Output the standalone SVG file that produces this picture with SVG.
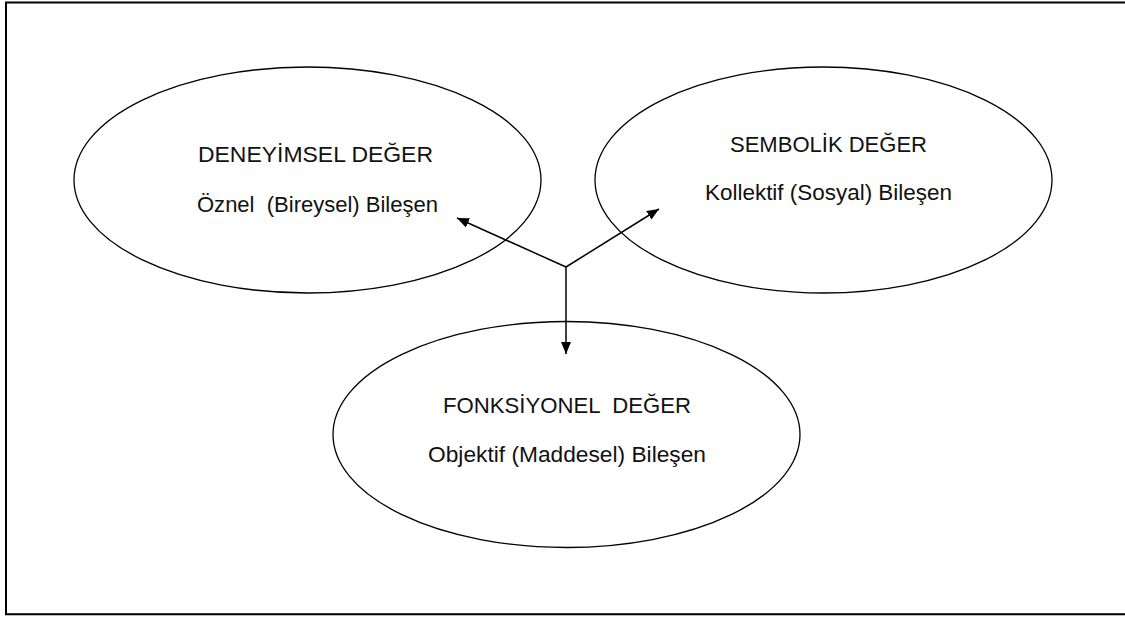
<svg xmlns="http://www.w3.org/2000/svg" width="1125" height="617" viewBox="0 0 1125 617">
<style>
.node ellipse{fill:none;stroke:#000;stroke-width:1.3}
.t{font-family:"Liberation Sans",Arial,sans-serif;font-size:22px;fill:#111;text-anchor:middle}
.conn line{stroke:#000;stroke-width:1.5}
</style>
<defs>
<marker id="ah" viewBox="0 0 12 10" refX="12" refY="5" markerWidth="12" markerHeight="10" markerUnits="userSpaceOnUse" orient="auto">
<path d="M0,0 L12,5 L0,10 Z" fill="#000"/>
</marker>
</defs>
<rect width="1125" height="617" fill="#fff"/>
<path d="M1125,2.5 H6 V614.3 H1125" fill="none" stroke="#000" stroke-width="2"/>
<g id="node-deneyimsel" class="node">
<ellipse cx="307.5" cy="180" rx="233.5" ry="113"/>
<text class="t" x="315.5" y="162" textLength="235" lengthAdjust="spacingAndGlyphs">DENEYİMSEL DEĞER</text>
<text class="t" x="317.5" y="212" textLength="241" lengthAdjust="spacingAndGlyphs" xml:space="preserve">Öznel  (Bireysel) Bileşen</text>
</g>
<g id="node-sembolik" class="node">
<ellipse cx="823.5" cy="180" rx="228.5" ry="113"/>
<text class="t" x="828.5" y="152" textLength="197" lengthAdjust="spacingAndGlyphs">SEMBOLİK DEĞER</text>
<text class="t" x="828.5" y="200" textLength="247" lengthAdjust="spacingAndGlyphs">Kollektif (Sosyal) Bileşen</text>
</g>
<g id="node-fonksiyonel" class="node">
<ellipse cx="566.5" cy="434.5" rx="233.5" ry="113"/>
<text class="t" x="567" y="413" textLength="248" lengthAdjust="spacingAndGlyphs" xml:space="preserve">FONKSİYONEL  DEĞER</text>
<text class="t" x="567" y="462" textLength="278" lengthAdjust="spacingAndGlyphs">Objektif (Maddesel) Bileşen</text>
</g>
<g id="connectors" class="conn">
<line x1="566" y1="267" x2="457" y2="218" marker-end="url(#ah)"/>
<line x1="566" y1="267" x2="659" y2="209" marker-end="url(#ah)"/>
<line x1="566" y1="267" x2="566" y2="354" marker-end="url(#ah)"/>
</g>
</svg>
